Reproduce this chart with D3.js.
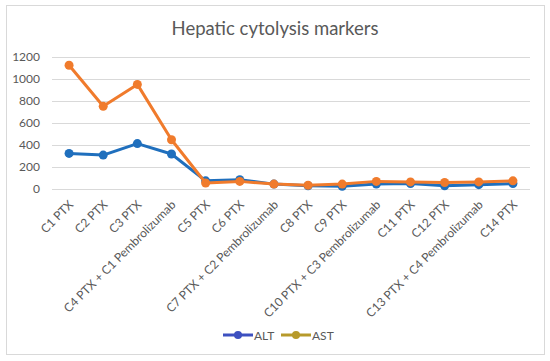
<!DOCTYPE html>
<html>
<head>
<meta charset="utf-8">
<script src="https://cdn.jsdelivr.net/npm/d3@7"></script>
<style>
  body { margin: 0; background: #fff; }
  text { font-family: Lato, "Open Sans", sans-serif; fill: #595959; }
</style>
</head>
<body>
<div id="chart-area"></div>
<script>

// Categories (treatment cycles)
var cycles = ["C1 PTX", "C2 PTX", "C3 PTX", "C4 PTX + C1 Pembrolizumab", "C5 PTX", "C6 PTX",
    "C7 PTX + C2 Pembrolizumab", "C8 PTX", "C9 PTX", "C10 PTX + C3 Pembrolizumab", "C11 PTX",
    "C12 PTX", "C13 PTX + C4 Pembrolizumab", "C14 PTX"];

// Series values
var altValues = [320, 305, 410, 315, 70, 80, 40, 25, 20, 40, 45, 25, 35, 45];
var astValues = [1125, 750, 950, 445, 50, 65, 40, 30, 40, 65, 60, 55, 60, 70];

var yTicks = [0, 200, 400, 600, 800, 1000, 1200];

var width = 550, height = 361;

var svg = d3.select("#chart-area").append("svg")
    .attr("width", width).attr("height", height);

// chart frame
svg.append("rect")
    .attr("x", 6.5).attr("y", 5.5)
    .attr("width", 538).attr("height", 349)
    .attr("fill", "#fff").attr("stroke", "#d9d9d9");

svg.append("text")
    .attr("x", width / 2).attr("y", 35)
    .attr("text-anchor", "middle")
    .style("font-size", "18.5px")
    .text("Hepatic cytolysis markers");

var x = d3.scaleBand().domain(cycles).range([52, 530]);
var y = d3.scaleLinear().domain([0, 1200]).range([188.5, 57]);

// gridlines
svg.append("g").selectAll("line").data(yTicks).enter().append("line")
    .attr("x1", 52).attr("x2", 530)
    .attr("y1", function(d){ return Math.round(y(d)) + 0.5; })
    .attr("y2", function(d){ return Math.round(y(d)) + 0.5; })
    .attr("stroke", "#d9d9d9").attr("stroke-width", 1);

// y axis labels
var yAxis = d3.axisLeft(y).tickValues(yTicks).tickFormat(d3.format("d"))
    .tickSize(0).tickPadding(12);
var gy = svg.append("g").attr("transform", "translate(52,0)").call(yAxis);
gy.select(".domain").remove();
gy.selectAll("text").style("font-size", "12px").style("fill", "#595959")
    .style("font-family", "Lato, sans-serif");

// x axis labels, rotated
var xAxis = d3.axisBottom(x).tickSize(0).tickPadding(0);
var gx = svg.append("g").attr("transform", "translate(0,188.5)").call(xAxis);
gx.select(".domain").remove();
gx.selectAll("text")
    .style("font-size", "12px").style("fill", "#595959")
    .style("font-family", "Lato, sans-serif")
    .attr("text-anchor", "end")
    .attr("dy", 0).attr("y", 0)
    .attr("transform", "translate(5,17) rotate(-45)");

var line = d3.line()
    .x(function(d, i){ return x(cycles[i]) + x.bandwidth() / 2; })
    .y(function(d){ return y(d); });

function drawSeries(values, color) {
    svg.append("path").datum(values)
        .attr("d", line)
        .attr("fill", "none")
        .attr("stroke", color)
        .attr("stroke-width", 3)
        .attr("stroke-linejoin", "round");
    svg.append("g").selectAll("circle").data(values).enter().append("circle")
        .attr("cx", function(d, i){ return x(cycles[i]) + x.bandwidth() / 2; })
        .attr("cy", function(d){ return y(d); })
        .attr("r", 4.5)
        .attr("fill", color);
}

drawSeries(altValues, "#1f6fbd");
drawSeries(astValues, "#f07b2c");

// legend
var legend = [
    { name: "ALT", color: "#3d50c0", x: 223 },
    { name: "AST", color: "#b79a2b", x: 281 }
];
var lg = svg.append("g").selectAll("g").data(legend).enter().append("g");
lg.append("line")
    .attr("x1", function(d){ return d.x; })
    .attr("x2", function(d){ return d.x + 30; })
    .attr("y1", 335).attr("y2", 335)
    .attr("stroke", function(d){ return d.color; })
    .attr("stroke-width", 3);
lg.append("circle")
    .attr("cx", function(d){ return d.x + 15; })
    .attr("cy", 335).attr("r", 4)
    .attr("fill", function(d){ return d.color; });
lg.append("text")
    .attr("x", function(d){ return d.x + 31; })
    .attr("y", 339.5)
    .style("font-size", "12px")
    .text(function(d){ return d.name; });

</script>
</body>
</html>
